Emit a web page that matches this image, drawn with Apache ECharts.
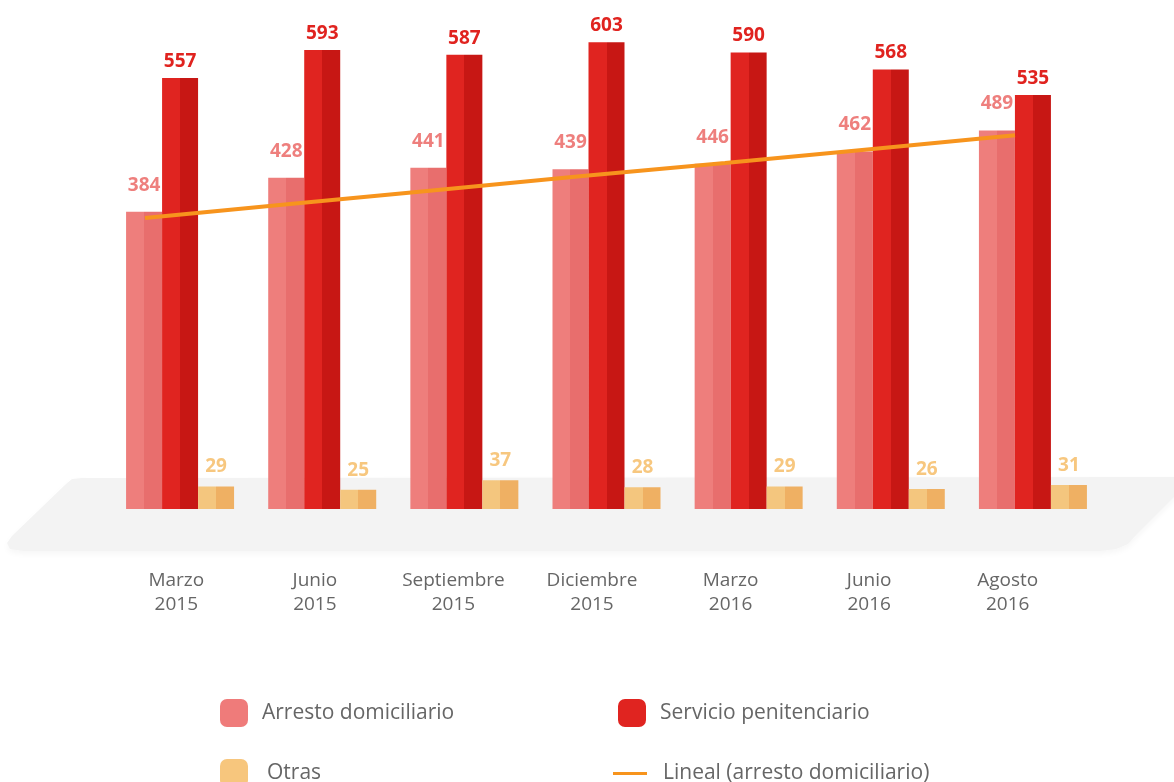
<!DOCTYPE html>
<html>
<head>
<meta charset="utf-8">
<script src="https://cdn.jsdelivr.net/npm/echarts@6/dist/echarts.min.js"></script>
<style>
  html, body { margin: 0; padding: 0; background: #fff; }
  #chart { width: 1174px; height: 782px; }
</style>
</head>
<body>
<div id="chart"></div>
<script>
// datos
var categorias = ['Marzo\n2015', 'Junio\n2015', 'Septiembre\n2015', 'Diciembre\n2015', 'Marzo\n2016', 'Junio\n2016', 'Agosto\n2016'];
var arresto = [384, 428, 441, 439, 446, 462, 489];
var servicio = [557, 593, 587, 603, 590, 568, 535];
var otras = [29, 25, 37, 28, 29, 26, 31];
// tendencia lineal (arresto domiciliario)
var lineal = [376, 394, 412, 430, 447, 465, 483];

function caras(claro, oscuro) {
    return {
        type: 'linear', x: 0, y: 0, x2: 1, y2: 0,
        colorStops: [
            {offset: 0, color: claro}, {offset: 0.5, color: claro},
            {offset: 0.5, color: oscuro}, {offset: 1, color: oscuro}
        ]
    };
}

var fuente = 'Open Sans';
var textoLeyenda = {color: '#666', fontSize: 21, fontFamily: fuente};
var myChart = echarts.init(document.getElementById('chart'));

var option = {
    animation: false,
    textStyle: {fontFamily: fuente},
    graphic: [{
        type: 'polygon',
        z: 0,
        shape: {
            points: [[82, 478], [1194, 477], [1136, 535], [1128, 544], [1116, 549], [1100, 551],
                     [24, 551], [10, 549], [7, 543], [12, 536], [66, 484], [72, 479]]
        },
        style: {fill: '#f3f3f3', shadowBlur: 6, shadowColor: 'rgba(0,0,0,0.04)', shadowOffsetY: 3}
    }],
    grid: [
        {left: 109, right: 70, top: 6, bottom: 273},
        {left: 107, right: 97, top: 6, bottom: 273}
    ],
    legend: [
        {data: [{name: 'Arresto domiciliario', icon: 'roundRect', itemStyle: {color: '#ef7b7a'}}],
            left: 220, top: 699, padding: 0, itemWidth: 28, itemHeight: 28,
            textStyle: Object.assign({padding: [0, 0, 0, 9]}, textoLeyenda)},
        {data: [{name: 'Otras', icon: 'roundRect', itemStyle: {color: '#f7c67d'}}],
            left: 220, top: 759, padding: 0, itemWidth: 28, itemHeight: 28,
            textStyle: Object.assign({padding: [0, 0, 0, 14]}, textoLeyenda)},
        {data: [{name: 'Servicio penitenciario', icon: 'roundRect', itemStyle: {color: '#e02420'}}],
            left: 618, top: 699, padding: 0, itemWidth: 28, itemHeight: 28,
            textStyle: Object.assign({padding: [0, 0, 0, 9]}, textoLeyenda)},
        {data: [{name: 'Lineal (arresto domiciliario)', icon: 'rect', itemStyle: {color: '#f7941d'}}],
            left: 613, top: 763, padding: 0, itemWidth: 34, itemHeight: 3,
            textStyle: Object.assign({padding: [0, 0, 0, 11]}, textoLeyenda)}
    ],
    xAxis: [
        {type: 'category', gridIndex: 0, data: categorias, show: false},
        {type: 'category', gridIndex: 1, data: categorias,
            axisLine: {show: false}, axisTick: {show: false},
            axisLabel: {color: '#666', fontSize: 19, lineHeight: 24, margin: 60, fontFamily: fuente}},
        {type: 'value', gridIndex: 0, min: -0.248, max: 6.614, show: false}
    ],
    yAxis: [
        {type: 'value', gridIndex: 0, min: 0, max: 650, show: false},
        {type: 'value', gridIndex: 1, show: false}
    ],
    series: [
        {
            name: 'Arresto domiciliario', type: 'bar', data: arresto,
            barWidth: 36, barGap: '0%',
            itemStyle: {color: caras('#ee7e7c', '#e86e6d')},
            label: {show: true, position: 'top', distance: 17, color: '#ee7f7d', fontSize: 19, fontWeight: 'bold', fontFamily: fuente}
        },
        {
            name: 'Servicio penitenciario', type: 'bar', data: servicio,
            barWidth: 36, barGap: '0%',
            itemStyle: {color: caras('#e02420', '#c71714')},
            label: {show: true, position: 'top', distance: 7, color: '#e0231f', fontSize: 19, fontWeight: 'bold', fontFamily: fuente}
        },
        {
            name: 'Otras', type: 'bar', data: otras,
            barWidth: 36, barGap: '0%',
            itemStyle: {color: caras('#f4c67e', '#efb063')},
            label: {show: true, position: 'top', distance: 10, color: '#f7c77f', fontSize: 19, fontWeight: 'bold', fontFamily: fuente}
        },
        {
            name: 'Lineal (arresto domiciliario)', type: 'line',
            xAxisIndex: 2, yAxisIndex: 0,
            data: lineal.map(function (v, i) { return [i, v]; }),
            showSymbol: false, symbol: 'none',
            itemStyle: {color: '#f7941d'},
            lineStyle: {color: '#f7941d', width: 4},
            z: 5
        }
    ]
};

myChart.setOption(option);
</script>
</body>
</html>
